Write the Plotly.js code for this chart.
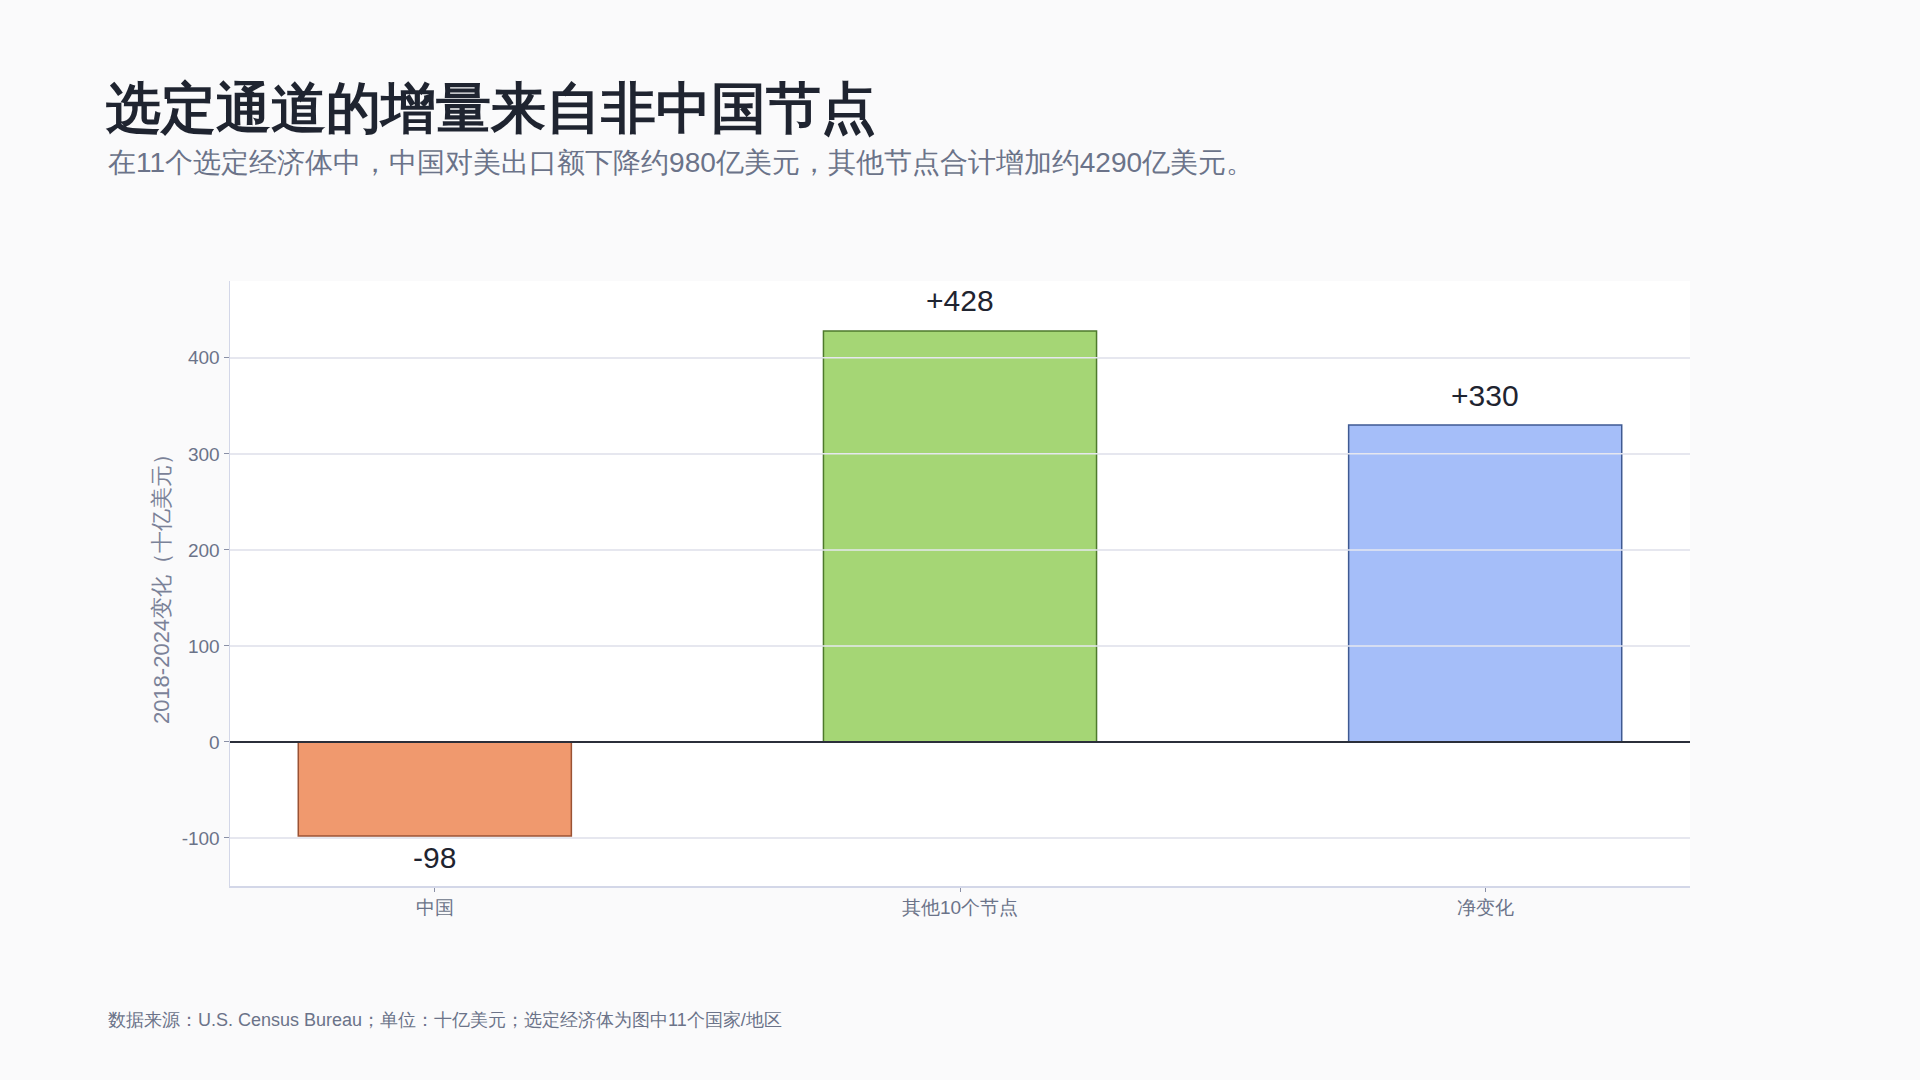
<!DOCTYPE html>
<html>
<head>
<meta charset="utf-8">
<script src="https://cdn.plot.ly/plotly-3.0.1.min.js"></script>
<style>
  html, body { margin: 0; padding: 0; background: #fafafb; }
  #chart { width: 1920px; height: 1080px; }
</style>
</head>
<body>
<div id="chart"></div>
<script>
const categories = ["中国", "其他10个节点", "净变化"];
const values = [-98, 428, 330];
const labels = ["-98", "+428", "+330"];
const tickValues = [-100, 0, 100, 200, 300, 400];
const tickLabels = ["-100", "0", "100", "200", "300", "400"];
const fillColors = ["#F0996E", "#A5D675", "#A5BEF9"];
const lineColors = ["#9A5234", "#4E7A2C", "#3F5A92"];

const titleText = "选定通道的增量来自非中国节点";
const subtitleText = "在11个选定经济体中，中国对美出口额下降约980亿美元，其他节点合计增加约4290亿美元。";
const footText = "数据来源：U.S. Census Bureau；单位：十亿美元；选定经济体为图中11个国家/地区";
const yTitle = "2018-2024变化（十亿美元）";

const FONT = "sans-serif";
const GRID = "#e6e7ef";

const trace = {
  type: "bar",
  x: categories,
  y: values,
  cliponaxis: false,
  marker: { color: fillColors, line: { color: lineColors, width: 1.5 } },
  width: 0.52,
  hoverinfo: "none"
};

// value labels placed at each bar end through the axes
const valueLabels = categories.map((c, i) => ({
  x: c, y: values[i], xref: "x", yref: "y",
  text: labels[i], showarrow: false,
  xanchor: "center", yanchor: "middle",
  yshift: values[i] >= 0 ? 30 : -21,
  font: { family: FONT, size: 30, color: "#1f2430" }
}));

// gridlines and zero line drawn over the bars, as in the reference
const gridShapes = tickValues.map(v => ({
  type: "line", layer: "above",
  xref: "paper", x0: 0, x1: 1,
  yref: "y", y0: v, y1: v,
  line: v === 0 ? { color: "#2b2f3a", width: 2 } : { color: GRID, width: 1.5 }
}));

const layout = {
  width: 1920,
  height: 1080,
  paper_bgcolor: "#fafafb",
  plot_bgcolor: "#ffffff",
  margin: { l: 230, r: 230, t: 281, b: 194 },
  showlegend: false,
  font: { family: FONT, color: "#6b7389" },
  title: {
    text: titleText,
    xref: "container", yref: "container",
    x: 106 / 1920, y: 1 - 108 / 1080,
    xanchor: "left", yanchor: "middle",
    font: { family: FONT, size: 55, weight: 600, color: "#1f2430" }
  },
  xaxis: {
    range: [-0.39, 2.39],
    showgrid: false,
    showline: true, linecolor: "#d3d7e8", linewidth: 1.5,
    ticks: "outside", ticklen: 4, tickcolor: "#8a90a6", tickwidth: 1,
    tickfont: { family: FONT, size: 19, color: "#6b7389" },
    zeroline: false
  },
  yaxis: {
    range: [-150, 480],
    tickvals: tickValues,
    ticktext: tickLabels,
    showgrid: true, gridcolor: GRID, gridwidth: 1.5,
    showline: true, linecolor: "#d3d7e8", linewidth: 1.5,
    ticks: "outside", ticklen: 5, tickcolor: "#8a90a6", tickwidth: 1,
    tickfont: { family: FONT, size: 19, color: "#6b7389" },
    zeroline: true, zerolinecolor: "#2b2f3a", zerolinewidth: 2,
    title: { text: yTitle, standoff: 6, font: { family: FONT, size: 22, color: "#7b8298" } }
  },
  shapes: gridShapes,
  annotations: valueLabels.concat([
    {
      text: subtitleText,
      xref: "paper", yref: "paper",
      x: (106 - 230) / 1460, y: (886 - 163) / 605,
      xanchor: "left", yanchor: "middle",
      showarrow: false,
      font: { family: FONT, size: 28, color: "#6b7389" }
    },
    {
      text: footText,
      xref: "paper", yref: "paper",
      x: (106 - 230) / 1460, y: (886 - 1020) / 605,
      xanchor: "left", yanchor: "middle",
      showarrow: false,
      font: { family: FONT, size: 18, color: "#6b7389" }
    }
  ])
};

Plotly.newPlot("chart", [trace], layout, { displayModeBar: false, staticPlot: true });
</script>
</body>
</html>
